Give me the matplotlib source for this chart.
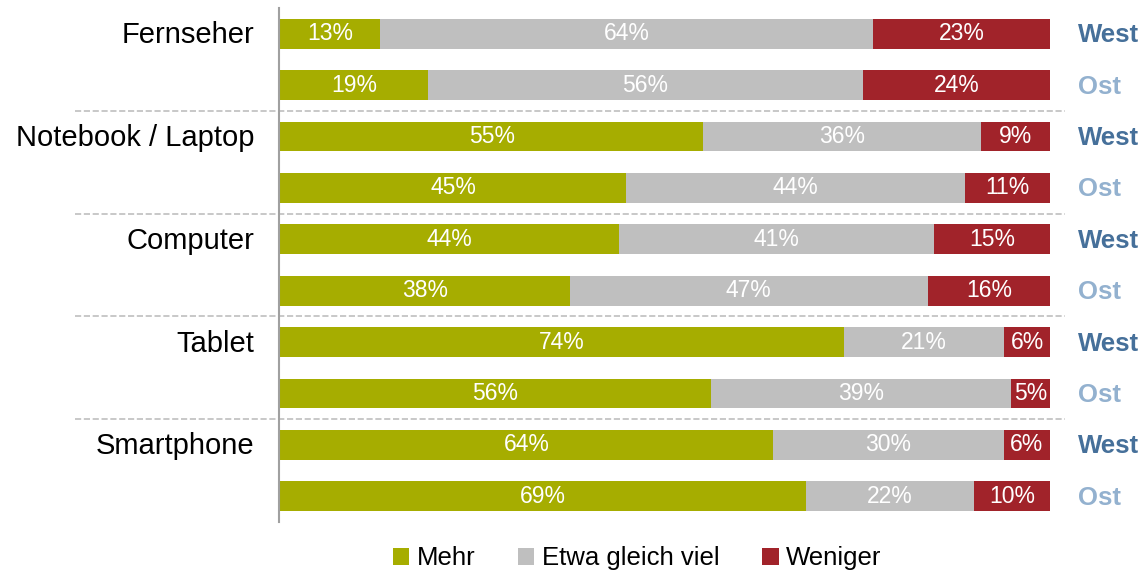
import matplotlib.pyplot as plt
import numpy as np

plt.rcParams['font.family'] = ['Liberation Sans', 'DejaVu Sans']

categories = ['Fernseher', 'Notebook / Laptop', 'Computer', 'Tablet', 'Smartphone']
regions = ['West', 'Ost']
mehr = [13, 19, 55, 45, 44, 38, 74, 56, 64, 69]
gleich = [64, 56, 36, 44, 41, 47, 21, 39, 30, 22]
weniger = [23, 24, 9, 11, 15, 16, 6, 5, 6, 10]
series_names = ['Mehr', 'Etwa gleich viel', 'Weniger']

colors = ['#a6ad00', '#bfbfbf', '#a1232a']
region_colors = {'West': '#46709a', 'Ost': '#93b1cf'}

fig = plt.figure(figsize=(11.46, 5.76), dpi=100)
ax = fig.add_axes([0.2443, 0.0938, 0.6719, 0.8924])

values = np.array([mehr, gleich, weniger], dtype=float)
totals = values.sum(axis=0)
shares = values / totals * 100
y = np.arange(len(mehr))

left = np.zeros(len(mehr))
for i, name in enumerate(series_names):
    ax.barh(y, shares[i], left=left, height=0.58, color=colors[i], label=name)
    for k in range(len(mehr)):
        ax.text(left[k] + shares[i][k] / 2, y[k], f'{int(values[i][k])}%',
                ha='center', va='center', color='white', fontsize=16.5)
    left += shares[i]

ax.set_xlim(0, 100)
ax.set_ylim(9.5, -0.5)
ax.set_xticks([])
ax.set_yticks([])
for side in ['top', 'right', 'bottom']:
    ax.spines[side].set_visible(False)
ax.spines['left'].set_color('#a0a0a0')
ax.spines['left'].set_linewidth(1.5)
ax.spines['left'].set_position(('data', -0.1))

# group separators
for sep in [1.5, 3.5, 5.5, 7.5]:
    ax.plot([-26.6, 102], [sep, sep], color='#bfbfbf', linestyle='--',
            linewidth=1.2, clip_on=False, zorder=0)

for j, cat in enumerate(categories):
    ax.text(-3.3, 2 * j + 0.03, cat, ha='right', va='center', fontsize=21)

for k in range(len(mehr)):
    reg = regions[k % 2]
    ax.text(103.6, y[k] + 0.03, reg, ha='left', va='center', fontsize=18.5,
            fontweight='bold', color=region_colors[reg])

fig.legend(loc='lower center', bbox_to_anchor=(0.556, -0.03), ncol=3, frameon=False,
           fontsize=18.5, handlelength=0.64, handleheight=0.64,
           handletextpad=0.3, columnspacing=1.65)

fig.savefig('out.png', dpi=100)
